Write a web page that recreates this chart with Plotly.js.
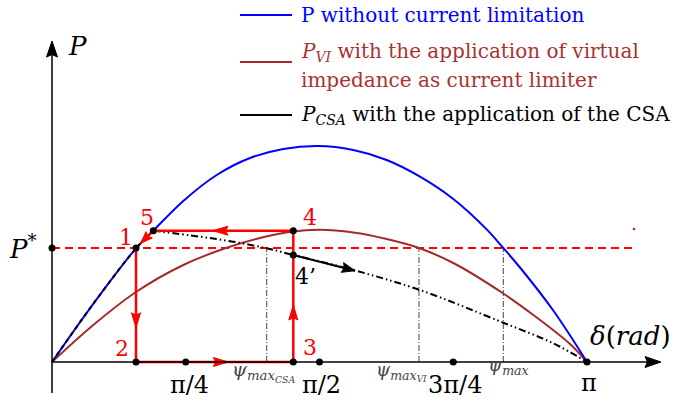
<!DOCTYPE html>
<html>
<head>
<meta charset="utf-8">
<script src="https://cdn.plot.ly/plotly-3.0.1.min.js"></script>
<style>
  html, body { margin: 0; padding: 0; background: #fff; }
  #chart { width: 687px; height: 409px; }
</style>
</head>
<body>
<div id="chart"></div>
<script>
const PI = Math.PI;

// Power–angle curve without current limitation (δ in rad, P normalised to its peak)
const deltaP = [0, 0.2425, 0.4933, 0.5948, 0.7710, 0.9671, 1.1627, 1.3582, 1.5620, 1.7693, 1.9654, 2.1609, 2.3565, 2.5526, 2.6501, 2.7481, 2.9436, PI];
const powerP = [0, 0.2694, 0.5264, 0.6079, 0.7454, 0.8657, 0.9444, 0.9861, 1.0, 0.9815, 0.9352, 0.8579, 0.7546, 0.6139, 0.5278, 0.4375, 0.2384, 0];

// Power–angle curve with virtual impedance limiting the current
const deltaVI = [0, 0.2425, 0.4933, 0.7710, 1.0217, 1.2214, 1.4152, 1.5737, 1.7693, 1.9654, 2.1550, 2.3565, 2.6501, 2.8462, 3.0418, PI];
const powerVI = [0, 0.1713, 0.3241, 0.4491, 0.5278, 0.5741, 0.6042, 0.6120, 0.5995, 0.5694, 0.5278, 0.4583, 0.3171, 0.2060, 0.0833, 0];

// CSA curve: follows P up to point 5, then slides down towards π
const deltaCSArise = [0, 0.2425, 0.4933, 0.5948];
const powerCSArise = [0, 0.2694, 0.5264, 0.6079];
const deltaCSA = [0.5948, 0.8691, 1.0646, 1.2607, 1.4169, 1.7693, 2.1609, 2.6501, 2.9437, PI];
const powerCSA = [0.6079, 0.5801, 0.5569, 0.5264, 0.4954, 0.4259, 0.3333, 0.1819, 0.0866, 0];

// Reference power and operating points of the fault cycle
const pStar = 0.528;
const pointLabels = ['1', '2', '3', '4', '5'];
const pointDelta = [0.4933, 0.4933, 1.4169, 1.4169, 0.5948];
const pointPower = [0.528, 0, 0, 0.6079, 0.6079];
const point4pDelta = 1.4169;
const point4pPower = 0.4954;
const driftDelta = 1.7792;   // where the 4' trajectory heads
const driftPower = 0.4227;
const markerDotDelta = 3.4176;
const markerDotPower = 0.616;

// Maximum stable angles
const psiDelta = [1.2607, 2.1550, 2.6501];
const psiText = [
  '<i>ψ</i><sub><i>max</i><sub><i>CSA</i></sub></sub>',
  '<i>ψ</i><sub><i>max</i><sub><i>VI</i></sub></sub>',
  '<i>ψ</i><sub><i>max</i></sub>'
];

// Angle ticks
const tickVals = [PI / 4, PI / 2, 3 * PI / 4, PI];
const tickText = ['π/4', 'π/2', '3π/4', 'π'];

// ---------- page geometry (pixels) ----------
const W = 687, H = 409;
const ORIGIN_X = 52, ORIGIN_Y = 362;
const PX_PER_RAD = 535 / PI;
const PX_PER_P = 216;
const xRange = [-ORIGIN_X / PX_PER_RAD, (W - ORIGIN_X) / PX_PER_RAD];
const yRange = [-(H - ORIGIN_Y) / PX_PER_P, ORIGIN_Y / PX_PER_P];
const px2d = px => (px - ORIGIN_X) / PX_PER_RAD;
const py2p = py => (ORIGIN_Y - py) / PX_PER_P;
const pxX = px => px / W;
const pxY = py => 1 - py / H;

const FONT = 'DejaVu Serif';
const BLUE = '#0000ff', BROWN = '#a52a2a', RED = '#ff0000';

// filled arrowhead with its tip at (d, p), pointing along (ux, uy) in screen pixels
function arrowHead(d, p, ux, uy, len, half, color) {
  const n = Math.hypot(ux, uy); ux /= n; uy /= n;
  const tx = (d - xRange[0]) * PX_PER_RAD, ty = ORIGIN_Y - p * PX_PER_P;
  const bx = tx - ux * len, by = ty - uy * len;
  const nx = -uy, ny = ux;
  const notchX = tx - ux * len * 0.85, notchY = ty - uy * len * 0.85;
  const pts = [[tx, ty], [bx + nx * half, by + ny * half], [notchX, notchY], [bx - nx * half, by - ny * half], [tx, ty]];
  return {
    x: pts.map(q => q[0] / PX_PER_RAD + xRange[0]),
    y: pts.map(q => (ORIGIN_Y - q[1]) / PX_PER_P),
    mode: 'lines', fill: 'toself', fillcolor: color,
    line: { color: color, width: 1 }, hoverinfo: 'skip'
  };
}
function lerp(a, b, t) { return a + (b - a) * t; }

const traces = [];

// P* reference line
traces.push({ x: [0, px2d(634)], y: [pStar, pStar], mode: 'lines',
  line: { color: RED, width: 2, dash: '8px,5px' }, hoverinfo: 'skip' });
traces.push({ x: [markerDotDelta], y: [markerDotPower], mode: 'markers',
  marker: { color: RED, size: 2.5 }, hoverinfo: 'skip' });

// ψ verticals
psiDelta.forEach(d => traces.push({ x: [d, d], y: [0, pStar], mode: 'lines',
  line: { color: '#444', width: 1, dash: '6px,2px,1px,2px' }, hoverinfo: 'skip' }));

// curves
traces.push({ x: deltaVI, y: powerVI, mode: 'lines', line: { color: BROWN, width: 2, shape: 'spline', smoothing: 1 }, hoverinfo: 'skip' });
traces.push({ x: deltaP, y: powerP, mode: 'lines', line: { color: BLUE, width: 2, shape: 'spline', smoothing: 1 }, hoverinfo: 'skip' });
traces.push({ x: deltaCSArise, y: powerCSArise, mode: 'lines', line: { color: '#000', width: 2, dash: '4px,4px', shape: 'spline', smoothing: 1 }, hoverinfo: 'skip' });
traces.push({ x: deltaCSA, y: powerCSA, mode: 'lines', line: { color: '#000', width: 2, dash: '7px,3px,1.5px,3px,1.5px,3px', shape: 'spline', smoothing: 1 }, hoverinfo: 'skip' });

// fault trajectory 1→2→3→4→5→1
const [d1, d2, d3, d4, d5] = pointDelta;
const [p1, p2, p3, p4, p5] = pointPower;
traces.push({ x: [d1, d2, d3, d4, d5], y: [p1, p2, p3, p4, p5], mode: 'lines',
  line: { color: RED, width: 2.5 }, hoverinfo: 'skip' });
const tip51 = [lerp(d5, d1, 0.73), lerp(p5, p1, 0.73)];
traces.push({ x: [d5, tip51[0]], y: [p5, tip51[1]], mode: 'lines', line: { color: RED, width: 2 }, hoverinfo: 'skip' });
traces.push(arrowHead(d1, lerp(p1, p2, 0.70), 0, 1, 15, 4.5, RED));
traces.push(arrowHead(lerp(d2, d3, 0.587), 0, 1, 0, 15, 4.5, RED));
traces.push(arrowHead(d3, lerp(p3, p4, 0.434), 0, -1, 15, 4.5, RED));
traces.push(arrowHead(lerp(d4, d5, 0.574), p4, -1, 0, 15, 4.5, RED));
traces.push(arrowHead(tip51[0], tip51[1], (d1 - d5) * PX_PER_RAD, -(p1 - p5) * PX_PER_P, 12, 4.5, RED));

// 4' drift
traces.push({ x: [point4pDelta, driftDelta], y: [point4pPower, driftPower], mode: 'lines',
  line: { color: '#000', width: 2 }, hoverinfo: 'skip' });
traces.push(arrowHead(driftDelta, driftPower, (driftDelta - point4pDelta) * PX_PER_RAD, -(driftPower - point4pPower) * PX_PER_P, 13, 5, '#000'));

// axes with arrowheads
traces.push({ x: [0, px2d(652)], y: [0, 0], mode: 'lines', line: { color: '#000', width: 1.5 }, hoverinfo: 'skip' });
traces.push({ x: [0, 0], y: [py2p(393), py2p(52)], mode: 'lines', line: { color: '#000', width: 1.5 }, hoverinfo: 'skip' });
traces.push(arrowHead(px2d(661), 0, 1, 0, 16, 5.5, '#000'));
traces.push(arrowHead(0, py2p(41), 0, -1, 16, 5.5, '#000'));

// dots on the axes and the operating points
traces.push({
  x: [0, d1, d5, d4, point4pDelta, d2, PI / 4, d3, PI / 2, 3 * PI / 4, PI],
  y: [pStar, p1, p5, p4, point4pPower, 0, 0, 0, 0, 0, 0],
  mode: 'markers', marker: { color: '#000', size: 7 }, hoverinfo: 'skip'
});

const ann = [];
const txt = (o) => Object.assign({ showarrow: false, xanchor: 'center', yanchor: 'middle' }, o);
// point labels
const labelShift = [[-10, 10], [-14, 14], [17, 15], [17, 13], [-6, 13]];
pointLabels.forEach((t, i) => ann.push(txt({ x: pointDelta[i], y: pointPower[i], text: t,
  xshift: labelShift[i][0], yshift: labelShift[i][1], font: { family: FONT, size: 22, color: RED } })));
ann.push(txt({ x: point4pDelta, y: point4pPower, text: '4’', xshift: 12, yshift: -22,
  font: { family: FONT, size: 22, color: '#000' } }));

// tick labels
tickText.forEach((t, i) => ann.push(txt({ x: tickVals[i], y: 0, text: t, yshift: i === 3 ? -21 : -23,
  xshift: i === 0 ? 4 : 2, font: { family: FONT, size: 24, color: '#000' } })));
const psiShift = [[-3, -9], [-17, -9], [5, -4]];
const psiSize = [19, 18, 18];
psiText.forEach((t, i) => ann.push(txt({ x: psiDelta[i], y: 0, text: t,
  xshift: psiShift[i][0], yshift: psiShift[i][1], font: { family: FONT, size: psiSize[i], color: '#444' } })));

// axis titles
ann.push(txt({ x: pxX(77), y: pxY(46), xref: 'paper', yref: 'paper', text: '<i>P</i>',
  font: { family: FONT, size: 26, color: '#000' } }));
ann.push(txt({ x: pxX(23), y: pxY(247), xref: 'paper', yref: 'paper', text: '<i>P</i><sup>*</sup>',
  font: { family: FONT, size: 26, color: '#000' } }));
ann.push(txt({ x: pxX(630), y: pxY(336), xref: 'paper', yref: 'paper', text: '<i>δ</i>(<i>rad</i>)',
  font: { family: FONT, size: 26, color: '#000' } }));

// legend
const TEXT_BROWN = '#a83232';
const legendRows = [
  { y: 15, line: BLUE, color: BLUE, lines: [[15, 'P without current limitation']] },
  { y: 62, line: BROWN, color: TEXT_BROWN, lines: [[52, '<i>P</i><sub><i>VI</i></sub> with the application of virtual'], [80, 'impedance as current limiter']] },
  { y: 115, line: '#000', color: '#000', lines: [[115, '<i>P</i><sub><i>CSA</i></sub> with the application of the CSA']] }
];
const shapes = [];
legendRows.forEach(r => {
  shapes.push({ type: 'line', xref: 'paper', yref: 'paper', x0: pxX(240), x1: pxX(292), y0: pxY(r.y), y1: pxY(r.y),
    line: { color: r.line, width: 2 } });
  r.lines.forEach(l => ann.push(txt({ x: pxX(299), y: pxY(l[0]), xref: 'paper', yref: 'paper', xanchor: 'left',
    text: l[1], font: { family: FONT, size: 20, color: r.color } })));
});

traces.forEach(t => { t.showlegend = false; });

Plotly.newPlot('chart', traces, {
  width: W, height: H,
  margin: { l: 0, r: 0, t: 0, b: 0 },
  paper_bgcolor: '#fff', plot_bgcolor: '#fff',
  font: { family: FONT },
  xaxis: { range: xRange, visible: false, fixedrange: true },
  yaxis: { range: yRange, visible: false, fixedrange: true },
  showlegend: false,
  annotations: ann,
  shapes: shapes
}, { staticPlot: true });
</script>
</body>
</html>
